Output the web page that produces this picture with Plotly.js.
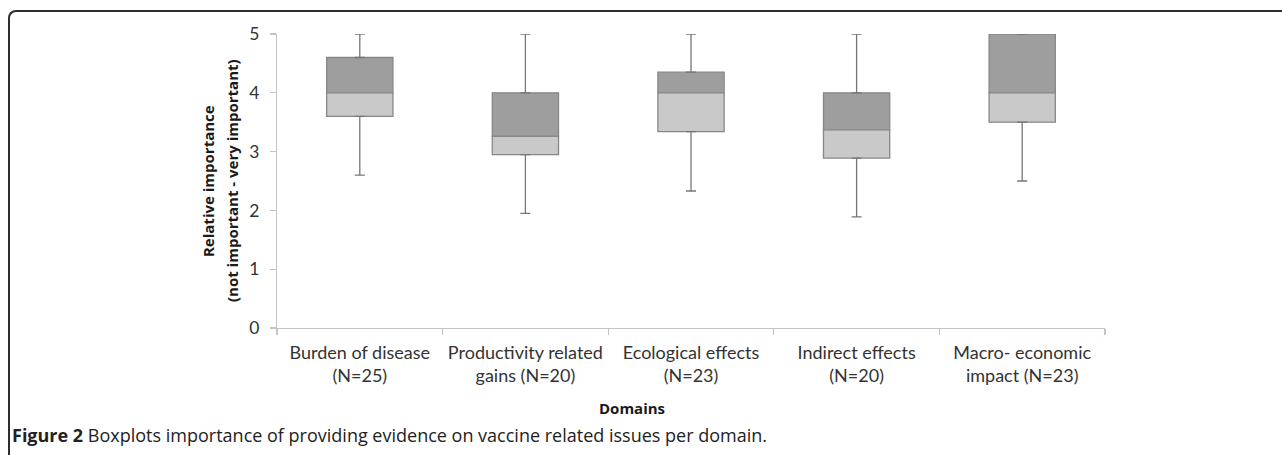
<!DOCTYPE html>
<html>
<head>
<meta charset="utf-8">
<script src="https://cdn.plot.ly/plotly-3.0.1.min.js"></script>
<style>
  html, body { margin: 0; padding: 0; background: #ffffff; }
  #wrap { position: relative; width: 1282px; height: 455px; overflow: hidden; }
  #chart { position: absolute; left: 0; top: 0; width: 1282px; height: 455px; }
  #frame { position: absolute; left: 8px; top: 10px; width: 1300px; height: 460px;
           border-top: 2px solid #2e2e2e; border-left: 2px solid #2e2e2e;
           border-top-left-radius: 8px; pointer-events: none; }
</style>
</head>
<body>
<div id="wrap">
  <div id="chart"></div>
  <div id="frame"></div>
</div>
<script>
// ---- data ----
var categories = [
  "Burden of disease<br>(N=25)",
  "Productivity related<br>gains (N=20)",
  "Ecological effects<br>(N=23)",
  "Indirect effects<br>(N=20)",
  "Macro- economic<br>impact (N=23)"
];
var minVals    = [2.6, 1.95, 2.33, 1.89, 2.5];
var q1Vals     = [3.6, 2.95, 3.34, 2.89, 3.5];
var medianVals = [4.0, 3.26, 4.0, 3.37, 4.0];
var q3Vals     = [4.6, 4.0, 4.35, 4.0, 5.0];
var maxVals    = [5.0, 5.0, 5.0, 5.0, 5.0];
var yTickVals  = [0, 1, 2, 3, 4, 5];

var yTitleLines = ["Relative importance", "(not important - very important)"];
var xTitle = "Domains";
var captionBold = "Figure 2";
var captionText = " Boxplots importance of providing evidence on vaccine related issues per domain.";

// ---- derived pieces for the library ----
var upperSize = q3Vals.map(function (q, i) { return q - medianVals[i]; });
var lowerSize = q1Vals.map(function (q, i) { return q - medianVals[i]; });
var upperWhisk = maxVals.map(function (m, i) { return m - q3Vals[i]; });
var lowerWhisk = q1Vals.map(function (q, i) { return q - minVals[i]; });
var zeros = categories.map(function () { return 0; });

var boxLine = { color: "#878787", width: 1.3 };
var whiskerStyle = { color: "#767676", thickness: 1.3, width: 5 };

var traces = [
  {
    type: "bar", x: categories, y: upperSize, base: medianVals, width: 0.4,
    marker: { color: "#9e9e9e", line: boxLine },
    error_y: Object.assign({ type: "data", symmetric: false, array: upperWhisk, arrayminus: zeros, visible: true }, whiskerStyle),
    hoverinfo: "skip", showlegend: false
  },
  {
    type: "bar", x: categories, y: lowerSize, base: medianVals, width: 0.4,
    marker: { color: "#c9c9c9", line: boxLine },
    error_y: Object.assign({ type: "data", symmetric: false, array: zeros, arrayminus: lowerWhisk, visible: true }, whiskerStyle),
    hoverinfo: "skip", showlegend: false
  }
];

var titleFont = { family: "'Open Sans', sans-serif", size: 15, color: "#1a1a1a" };

var layout = {
  width: 1282, height: 455,
  margin: { l: 277, r: 177, t: 34, b: 127 },
  paper_bgcolor: "rgba(0,0,0,0)", plot_bgcolor: "rgba(0,0,0,0)",
  barmode: "overlay",
  showlegend: false,
  font: { family: "Lato, 'Open Sans', sans-serif", color: "#333333" },
  xaxis: {
    type: "category",
    showline: true, linecolor: "#c4c4c4", linewidth: 1.2,
    ticks: "outside", tickson: "boundaries", ticklen: 6, tickcolor: "#c4c4c4", tickwidth: 1.2,
    showgrid: false, zeroline: false,
    tickangle: 0,
    tickfont: { family: "Lato, 'Open Sans', sans-serif", size: 18, color: "#333333" },
    ticklabelstandoff: 8,
    fixedrange: true
  },
  yaxis: {
    range: [0, 5], tickvals: yTickVals,
    showline: true, linecolor: "#c4c4c4", linewidth: 1.2,
    ticks: "outside", ticklen: 6, tickcolor: "#c4c4c4", tickwidth: 1.2,
    showgrid: false, zeroline: false,
    tickfont: { family: "Lato, 'Open Sans', sans-serif", size: 17.5, color: "#333333" },
    ticklabelstandoff: 7,
    fixedrange: true
  },
  annotations: [
    {
      text: "<b>" + yTitleLines[0] + "</b>", textangle: -90,
      xref: "paper", yref: "paper", x: -0.0833, y: 0.5,
      xanchor: "center", yanchor: "middle", showarrow: false, font: titleFont
    },
    {
      text: "<b>" + yTitleLines[1] + "</b>", textangle: -90,
      xref: "paper", yref: "paper", x: -0.0543, y: 0.5,
      xanchor: "center", yanchor: "middle", showarrow: false, font: titleFont
    },
    {
      text: "<b>" + xTitle + "</b>",
      xref: "paper", yref: "paper", x: 0.4287, y: -0.272,
      xanchor: "center", yanchor: "middle", showarrow: false, font: titleFont
    },
    {
      text: "<b>" + captionBold + "</b>" + captionText,
      xref: "paper", yref: "paper", x: -0.322, y: -0.365,
      xanchor: "left", yanchor: "middle", showarrow: false,
      font: { family: "'Open Sans', sans-serif", size: 18, color: "#222222" }
    }
  ]
};

Plotly.newPlot("chart", traces, layout, { displayModeBar: false, staticPlot: true });
</script>
</body>
</html>
